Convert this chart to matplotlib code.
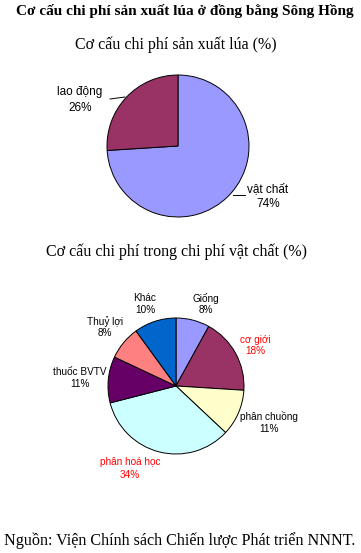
import matplotlib
matplotlib.use("Agg")
import matplotlib.pyplot as plt

# ---- data ----
title_main = "Cơ cấu chi phí sản xuất lúa ở đồng bằng Sông Hồng"
title1 = "Cơ cấu chi phí sản xuất lúa (%)"
title2 = "Cơ cấu chi phí trong chi phí vật chất (%)"
source = "Nguồn: Viện Chính sách Chiến lược Phát triển NNNT."

cats1 = ["vật chất", "lao động"]
vals1 = [74, 26]
cols1 = ["#9999FF", "#993366"]

cats2 = ["Giống", "cơ giới", "phân chuồng", "phân hoá học", "thuốc BVTV", "Thuỷ lợi", "Khác"]
vals2 = [8, 18, 11, 34, 11, 8, 10]
cols2 = ["#9999FF", "#993366", "#FFFFCC", "#CCFFFF", "#660066", "#FF8080", "#0066CC"]
red2 = ["cơ giới", "phân hoá học"]

W, H = 361, 553
fig = plt.figure(figsize=(W / 100, H / 100), dpi=100)
ax = fig.add_axes([0, 0, 1, 1])

def Y(y):
    return H - y

serif = "Liberation Serif"
sans = "Liberation Sans"

wp = dict(edgecolor="black", linewidth=0.7)
ax.pie(vals1, colors=cols1, startangle=90, counterclock=False,
       center=(178, Y(146)), radius=71, wedgeprops=wp, frame=True)
ax.pie(vals2, colors=cols2, startangle=90, counterclock=False,
       center=(176, Y(386)), radius=68, wedgeprops=wp, frame=True)
ax.set_xlim(0, W)
ax.set_ylim(0, H)
ax.set_aspect("equal")
ax.axis("off")

ax.text(185, Y(11), title_main, ha="center", va="center", family=serif,
        fontweight="bold", fontsize=11)
ax.text(176, Y(45), title1, ha="center", va="center", family=serif, fontsize=11.5)
ax.text(176, Y(252), title2, ha="center", va="center", family=serif, fontsize=11.5)
ax.text(180, Y(541), source, ha="center", va="center", family=serif, fontsize=11.6)

# labels pie 1
lab1_pos = {"vật chất": (268, 189, 204), "lao động": (80, 92, 108)}
for c, v in zip(cats1, vals1):
    x, y1, y2 = lab1_pos[c]
    ax.text(x, Y(y1), c, ha="center", va="center", family=sans, fontsize=8.5)
    ax.text(x, Y(y2), f"{v}%", ha="center", va="center", family=sans, fontsize=8.5)
ax.plot([110, 125], [Y(99), Y(97)], color="black", lw=0.7)
ax.plot([233, 245], [Y(195), Y(195)], color="black", lw=0.7)

# labels pie 2
lab2_pos = {
    "Giống": (206, 298, 310),
    "cơ giới": (255, 340, 351),
    "phân chuồng": (269, 417, 429),
    "phân hoá học": (130, 462, 475),
    "thuốc BVTV": (80, 372, 384),
    "Thuỷ lợi": (105, 322, 333),
    "Khác": (145, 298, 310),
}
for c, v in zip(cats2, vals2):
    x, y1, y2 = lab2_pos[c]
    col = "#FF0000" if c in red2 else "black"
    ax.text(x, Y(y1), c, ha="center", va="center", family=sans, fontsize=7.2, color=col)
    ax.text(x, Y(y2), f"{v}%", ha="center", va="center", family=sans, fontsize=7.2, color=col)

fig.savefig("out.png", dpi=100)
